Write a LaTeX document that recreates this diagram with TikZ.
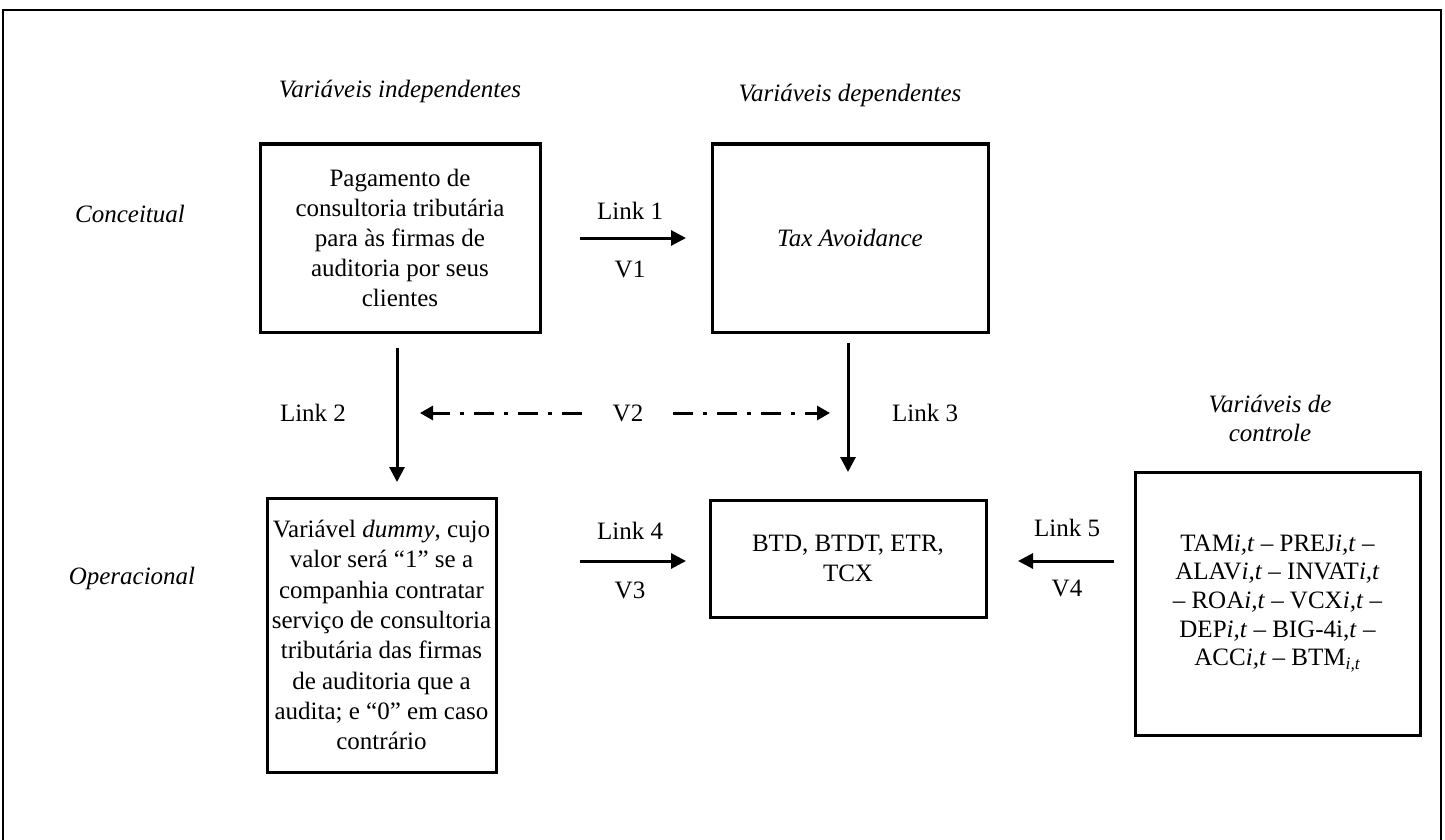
\documentclass[tikz,border=0pt]{standalone}
\usepackage{fontspec}
\setmainfont{Liberation Serif}
\usetikzlibrary{arrows.meta}
\begin{document}
\begin{tikzpicture}[x=1pt,y=-1pt,
  every node/.style={font=\fontsize{25pt}{30pt}\selectfont, inner sep=0pt, outer sep=0pt},
  box/.style={draw, line width=3pt, align=center},
  lbl/.style={align=center},
  ilbl/.style={align=center, font=\fontsize{25pt}{29pt}\selectfont\itshape},
  arr/.style={line width=3pt, -{Triangle[length=15pt,width=15pt]}},
  dd/.style={line width=3pt, -{Triangle[length=13pt,width=14pt]}, dash pattern=on 20pt off 10pt on 4pt off 10pt}
]
\useasboundingbox (0,0) rectangle (1445,840);
\fill[white] (0,0) rectangle (1445,840);
\draw[line width=2pt] (3,860) -- (3,10) -- (1441,10) -- (1441,860);

% headings
\node[ilbl] (hind) at (400,91) {Variáveis independentes};
\node[ilbl] (hdep) at (850,95) {Variáveis dependentes};
\node[ilbl] (hctl) at (1270,418) {Variáveis de\\controle};
\node[ilbl] (conc) at (130,214) {Conceitual};
\node[ilbl] (oper) at (132,578) {Operacional};

% boxes
\node[box, minimum width=280pt, minimum height=188pt] (b1) at (400,238)
  {Pagamento de\\consultoria tributária\\para às firmas de\\auditoria por seus\\clientes};
\node[box, minimum width=276pt, minimum height=188pt] (b2) at (850,238)
  {\itshape Tax Avoidance};
\node[box, minimum width=229pt, minimum height=274pt, font=\fontsize{25pt}{30.3pt}\selectfont] (b3) at (381.5,635)
  {Variável \textit{dummy}, cujo\\valor será “1” se a\\companhia contratar\\serviço de consultoria\\tributária das firmas\\de auditoria que a\\audita; e “0” em caso\\contrário};
\node[box, minimum width=276pt, minimum height=117pt] (b4) at (848,558.5)
  {BTD, BTDT, ETR,\\TCX};
\node[box, minimum width=285pt, minimum height=263pt, font=\fontsize{25pt}{28.7pt}\selectfont] (b5) at (1277.5,603.5)
  {TAM\textit{i,t} – PREJ\textit{i,t} –\\ALAV\textit{i,t} – INVAT\textit{i,t}\\– ROA\textit{i,t} – VCX\textit{i,t} –\\DEP\textit{i,t} – BIG-4i,\textit{t} –\\ACC\textit{i,t} – BTM\textsubscript{\textit{i,t}}};

% coordinates for arrows
\coordinate (l1s) at (580,238);
\coordinate (l1e) at (686,238);
\coordinate (l2s) at (397,348);
\coordinate (l2e) at (397,482);
\coordinate (l3s) at (848,343);
\coordinate (l3e) at (848,472);
\coordinate (l4s) at (580,561);
\coordinate (l4e) at (686,561);
\coordinate (l5s) at (1114,561);
\coordinate (l5e) at (1018,561);
\coordinate (v2l) at (420,413);
\coordinate (v2r) at (830,413);

\draw[arr] (l1s) -- (l1e);
\draw[arr] (l2s) -- (l2e);
\draw[arr] (l3s) -- (l3e);
\draw[arr] (l4s) -- (l4e);
\draw[arr] (l5s) -- (l5e);

\node[lbl] (t1) at (630,211) {Link 1};
\node[lbl] (v1) at (630,269) {V1};
\node[lbl] (t2) at (313,413) {Link 2};
\node[lbl] (t3) at (925,413) {Link 3};
\node[lbl] (t4) at (630,531) {Link 4};
\node[lbl] (v3) at (630,590) {V3};
\node[lbl] (t5) at (1067,528) {Link 5};
\node[lbl] (v4) at (1067,588) {V4};
\node[lbl] (v2) at (628,413) {V2};

\draw[dd] ([xshift=-31pt]v2.west) -- (v2l);
\draw[dd] ([xshift=30pt]v2.east) -- (v2r);
\end{tikzpicture}
\end{document}
